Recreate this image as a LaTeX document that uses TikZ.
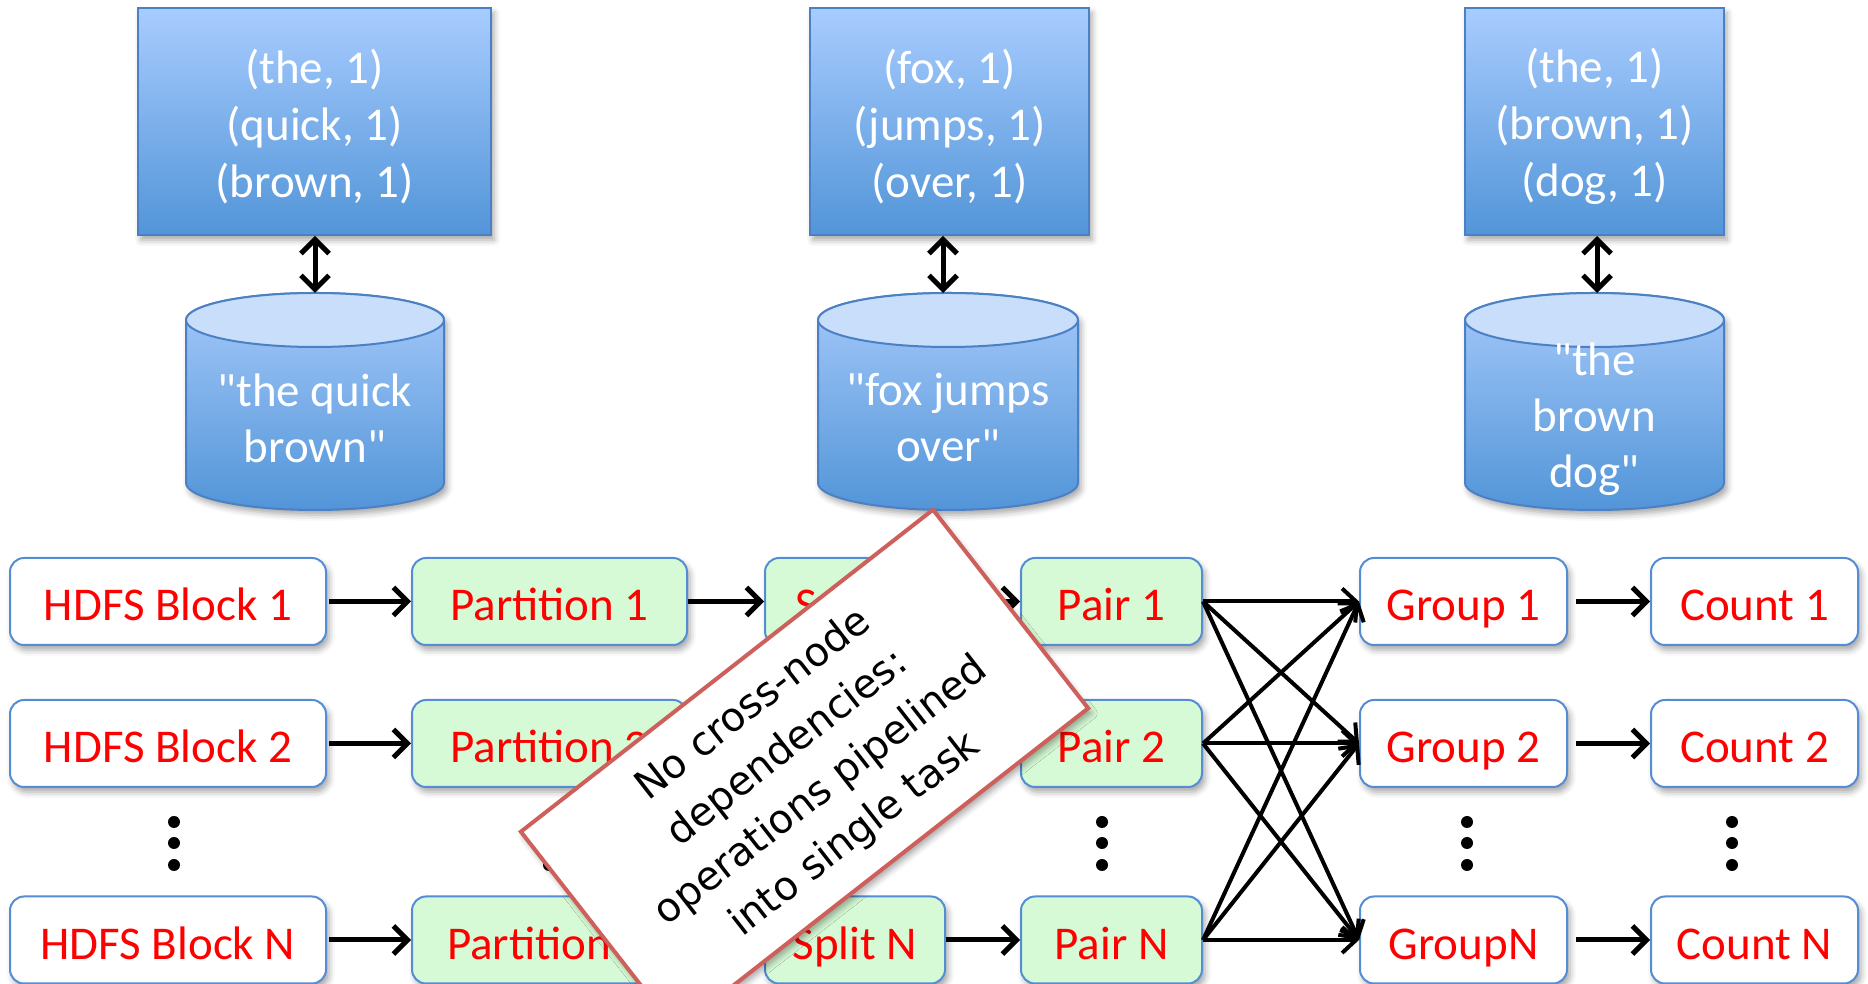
\documentclass[tikz,border=0pt]{standalone}
\usepackage{fontspec}
\setmainfont{Carlito}
\newfontfamily\labelfont{Carlito}
\newfontfamily\notefont{DejaVu Sans}
\usetikzlibrary{arrows.meta,shadows.blur,calc}

\definecolor{boxline}{RGB}{84,141,212}
\definecolor{kvline}{RGB}{76,128,196}
\definecolor{topblue}{RGB}{168,204,255}
\definecolor{botblue}{RGB}{82,149,216}
\definecolor{bodyblue}{RGB}{165,201,250}
\definecolor{cyltop}{RGB}{200,222,250}
\definecolor{mint}{RGB}{214,250,214}
\definecolor{notered}{RGB}{205,96,90}
\definecolor{labelred}{RGB}{255,0,0}

\begin{document}
\begin{tikzpicture}[x=0.5pt,y=0.5pt,
  softshadow/.style={blur shadow={shadow xshift=1.5pt,shadow yshift=-2.5pt,shadow blur radius=3pt,shadow opacity=35}},
  kv/.style={draw=kvline, line width=1pt, top color=topblue, bottom color=botblue,
    softshadow, minimum height=113.5pt, inner sep=0pt},
  kvtext/.style={text=white, align=center, font=\labelfont\fontsize{23.5}{28.5}\selectfont, inner sep=0pt},
  stage/.style={draw=boxline, line width=1pt, rounded corners=7pt, minimum height=43.5pt,
    text=labelred, font=\labelfont\fontsize{23.5}{28}\selectfont, softshadow, inner sep=0pt,
    text height=23pt, text depth=3.5pt},
  plain/.style={stage, fill=white},
  local/.style={stage, fill=mint},
  cylbody/.style={draw=kvline, line width=1pt, top color=bodyblue, bottom color=botblue, softshadow},
  cyltext/.style={text=white, align=center, font=\labelfont\fontsize{23.5}{28}\selectfont},
  flow/.style={line width=2.5pt, -{Straight Barb[length=7pt,width=14pt]}},
  shuffle/.style={line width=2pt, -{Straight Barb[length=7pt,width=13pt]}},
  link/.style={line width=2.5pt, {Straight Barb[length=7pt,width=14pt]}-{Straight Barb[length=7pt,width=14pt]}},
  dot/.style={circle, fill=black, inner sep=0pt, minimum size=6pt},
  note/.style={draw=notered, line width=2pt, fill=white, align=center,
    font=\notefont\fontsize{20}{27.5}\selectfont, softshadow},
]
\useasboundingbox (0,0) rectangle (1868,984);

% key/value records emitted by each mapper
\node[kv, minimum width=176.5pt] (kv1) at (314.5,862.5) {};
\node[kv, minimum width=139.5pt] (kv2) at (949.5,862.5) {};
\node[kv, minimum width=129.5pt] (kv3) at (1594.5,862.5) {};
\node[kvtext] (kv1text) at ($(kv1.center)+(0,-5)$) {(the, 1)\\(quick, 1)\\(brown, 1)};
\node[kvtext] (kv2text) at ($(kv2.center)+(0,-5)$) {(fox, 1)\\(jumps, 1)\\(over, 1)};
\node[kvtext] (kv3text) at ($(kv3.center)+(0,-5)$) {(the, 1)\\(brown, 1)\\(dog, 1)};

% input splits stored as cylinders
\foreach \cx/\rx/\n in {315/129/1, 948/130/2, 1594.5/129.5/3} {
  \path[cylbody] (\cx-\rx,664) -- (\cx-\rx,501)
    arc[start angle=180, end angle=360, x radius=\rx, y radius=27]
    -- (\cx+\rx,664)
    arc[start angle=0, end angle=180, x radius=\rx, y radius=27] -- cycle;
  \path[draw=kvline, line width=1pt, fill=cyltop] (\cx,664) ellipse[x radius=\rx, y radius=27];
}
\coordinate (db1) at (315,691);
\coordinate (db2) at (943,691);
\coordinate (db3) at (1597,691);
\node[cyltext] (txt1) at (315,566) {"the quick\\brown"};
\node[cyltext] (txt2) at (948,566) {"fox jumps\\over"};
\node[cyltext] (txt3) at (1594.5,565) {"the\\brown\\dog"};

\draw[link] (db1 |- kv1.south) -- (db1);
\draw[link] (db2 |- kv2.south) -- (db2);
\draw[link] (db3 |- kv3.south) -- (db3);

% pipeline stages
\foreach \r/\y/\lab in {1/382.5/1, 2/240.5/2, n/44/N} {
  \node[plain, minimum width=158pt]   (hdfs\r)  at (168,\y)    {HDFS Block \lab};
  \node[local, minimum width=137.5pt] (part\r)  at (549.5,\y)  {Partition \lab};
  \node[local, minimum width=90pt]    (split\r) at (855,\y)    {Split \lab};
  \node[local, minimum width=90.5pt]  (pair\r)  at (1111.5,\y) {Pair \lab};
  \node[plain, minimum width=103.5pt] (count\r) at (1754.5,\y) {Count \lab};
}
\node[plain, minimum width=103.5pt] (group1) at (1463.5,382.5) {Group 1};
\node[plain, minimum width=103.5pt] (group2) at (1463.5,240.5) {Group 2};
\node[plain, minimum width=103.5pt] (groupn) at (1463.5,44)    {GroupN};

\foreach \r in {1,2,n} {
  \draw[flow] ([xshift=1pt]hdfs\r.east) -- (part\r.west);
  \draw[flow] (part\r.east) -- (split\r.west);
  \draw[flow] (split\r.east) -- (pair\r.west);
  \draw[flow] ([xshift=4pt]group\r.east) -- (count\r.west);
}
\foreach \a in {1,2,n} {
  \foreach \b in {1,2,n} {
    \draw[shuffle] (pair\a.east) -- (group\b.west);
  }
}

% vertical ellipses between rows
\foreach \x in {174,549,855,1102,1467,1732} {
  \foreach \y in {162,141,119} {
    \node[dot] (d\x-\y) at (\x,\y) {};
  }
}

% annotation
\node[note, rotate=38, minimum width=261.5pt, minimum height=126pt] (remark) at (804.5,214)
  {No cross-node\\dependencies:\\operations pipelined\\into single task};
\end{tikzpicture}
\end{document}
